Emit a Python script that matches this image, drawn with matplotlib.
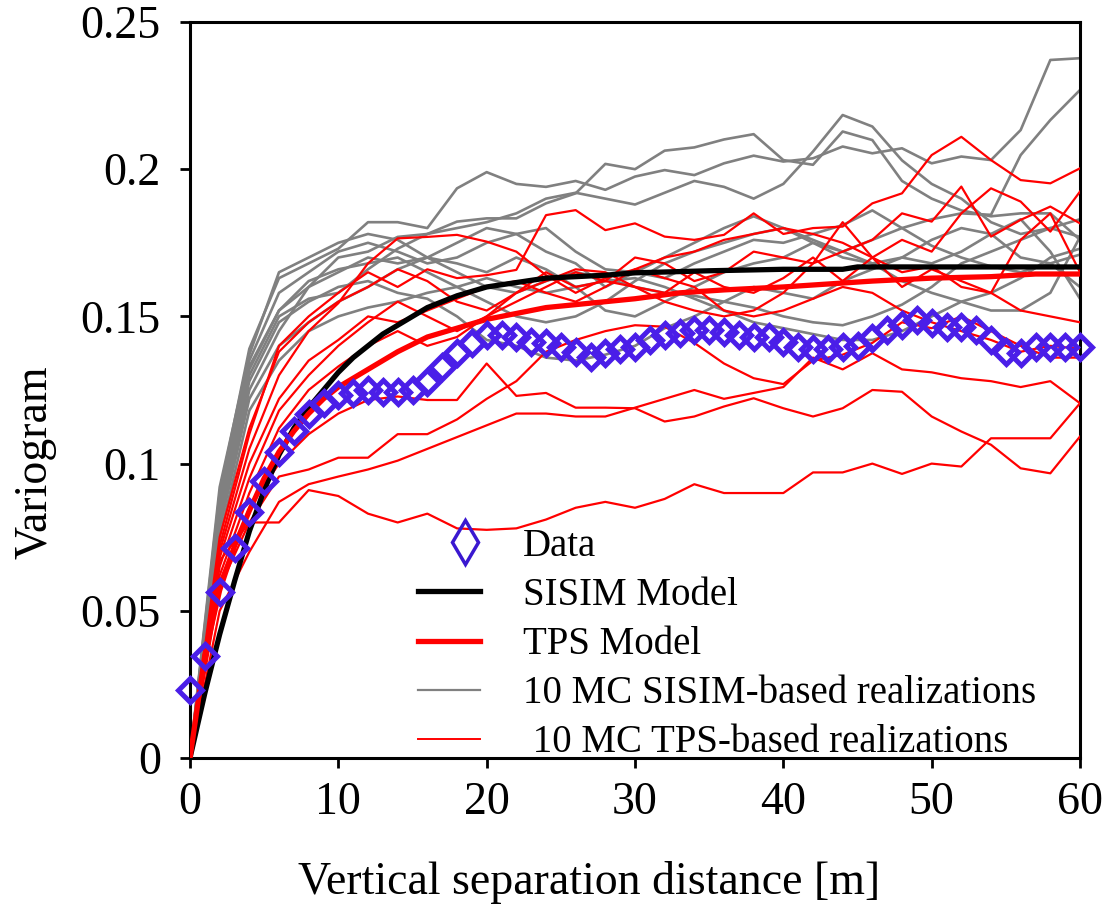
import numpy as np
import matplotlib
matplotlib.use("Agg")
import matplotlib.pyplot as plt
from matplotlib.lines import Line2D
from matplotlib.legend_handler import HandlerLine2DCompound

plt.rcParams['font.family'] = ['Liberation Serif', 'DejaVu Serif']

# --- data ---
data_h = np.arange(0, 61)
data_g = [0.0231, 0.0345, 0.0564, 0.0715, 0.0836, 0.0942, 0.104, 0.111, 0.117, 0.1206,
          0.1233, 0.124, 0.125, 0.1243, 0.1243, 0.125, 0.1277, 0.1328, 0.1376, 0.141,
          0.1437, 0.1437, 0.143, 0.1413, 0.141, 0.1396, 0.1379, 0.1362, 0.1376, 0.139,
          0.1396, 0.142, 0.1437, 0.1444, 0.1454, 0.1454, 0.1447, 0.1437, 0.143, 0.143,
          0.1413, 0.1396, 0.139, 0.139, 0.1396, 0.140, 0.1427, 0.1454, 0.147, 0.1488,
          0.1478, 0.1464, 0.1464, 0.1454, 0.142, 0.1379, 0.1376, 0.1396, 0.1396, 0.1396,
          0.1396]

sisim_h = [0, 1, 2, 3, 4, 5, 6, 7, 8, 9, 10, 11, 12, 13, 14, 15, 16, 18, 20, 22, 24, 26,
           28, 30, 35, 40, 44, 45, 50, 55, 60]
sisim_g = [0, 0.022, 0.042, 0.060, 0.077, 0.091, 0.103, 0.112, 0.119, 0.125, 0.131, 0.136,
           0.140, 0.144, 0.147, 0.150, 0.153, 0.157, 0.160, 0.1615, 0.163, 0.1635, 0.164,
           0.1648, 0.1655, 0.166, 0.166, 0.1668, 0.1668, 0.1668, 0.1668]

tps_h = [0, 1, 2, 3, 4, 5, 6, 7, 8, 9, 10, 12, 14, 16, 18, 20, 22, 24, 26, 28, 30, 33, 36,
         40, 43, 46, 50, 54, 57, 60]
tps_g = [0, 0.035, 0.057, 0.072, 0.084, 0.095, 0.104, 0.111, 0.117, 0.122, 0.126, 0.132,
         0.138, 0.143, 0.146, 0.149, 0.151, 0.153, 0.154, 0.155, 0.156, 0.158, 0.159, 0.160,
         0.161, 0.162, 0.163, 0.1635, 0.1644, 0.1644]

real_h = np.arange(0, 61, 2)

# 10 MC SISIM-based realizations
sisim_real = [
    [0, 0.090, 0.139, 0.163, 0.168, 0.173, 0.182, 0.182, 0.180, 0.1935, 0.199, 0.195, 0.194,
     0.196, 0.193, 0.1975, 0.1997, 0.198, 0.202, 0.2046, 0.2026, 0.2037, 0.2077, 0.2054,
     0.2071, 0.202, 0.2043, 0.2031, 0.2133, 0.2371, 0.2377],
    [0, 0.087, 0.133, 0.152, 0.160, 0.170, 0.172, 0.177, 0.178, 0.1822, 0.1833, 0.1833,
     0.1884, 0.1918, 0.2018, 0.200, 0.2063, 0.2074, 0.2101, 0.2119, 0.2031, 0.2015, 0.2128,
     0.2099, 0.196, 0.190, 0.186, 0.184, 0.185, 0.185, 0.176],
    [0, 0.085, 0.130, 0.150, 0.156, 0.158, 0.166, 0.173, 0.178, 0.180, 0.182, 0.185, 0.190,
     0.192, 0.190, 0.188, 0.192, 0.196, 0.194, 0.190, 0.195, 0.206, 0.2184, 0.2145, 0.203,
     0.195, 0.190, 0.182, 0.178, 0.180, 0.177],
    [0, 0.080, 0.125, 0.145, 0.160, 0.165, 0.170, 0.168, 0.170, 0.175, 0.180, 0.178, 0.172,
     0.168, 0.160, 0.165, 0.170, 0.175, 0.180, 0.184, 0.180, 0.176, 0.172, 0.176, 0.180,
     0.183, 0.185, 0.1845, 0.2048, 0.2167, 0.2269],
    [0, 0.075, 0.118, 0.135, 0.145, 0.150, 0.153, 0.155, 0.158, 0.160, 0.163, 0.160, 0.158,
     0.160, 0.162, 0.163, 0.160, 0.156, 0.152, 0.148, 0.146, 0.144, 0.142, 0.142, 0.145,
     0.150, 0.155, 0.152, 0.152, 0.158, 0.177],
    [0, 0.082, 0.128, 0.148, 0.155, 0.160, 0.162, 0.158, 0.156, 0.150, 0.142, 0.140, 0.136,
     0.135, 0.137, 0.140, 0.146, 0.150, 0.155, 0.160, 0.158, 0.156, 0.162, 0.166, 0.170,
     0.168, 0.172, 0.178, 0.183, 0.172, 0.156],
    [0, 0.088, 0.135, 0.158, 0.165, 0.172, 0.175, 0.172, 0.168, 0.170, 0.175, 0.178, 0.180,
     0.172, 0.166, 0.165, 0.163, 0.168, 0.172, 0.176, 0.175, 0.178, 0.181, 0.186, 0.180,
     0.174, 0.170, 0.167, 0.165, 0.168, 0.171],
    [0, 0.078, 0.122, 0.140, 0.148, 0.155, 0.160, 0.166, 0.170, 0.168, 0.165, 0.170, 0.166,
     0.160, 0.152, 0.150, 0.155, 0.160, 0.165, 0.168, 0.170, 0.175, 0.172, 0.168, 0.162,
     0.158, 0.155, 0.158, 0.163, 0.170, 0.173],
    [0, 0.085, 0.132, 0.152, 0.162, 0.166, 0.168, 0.170, 0.165, 0.160, 0.155, 0.150, 0.148,
     0.150, 0.155, 0.162, 0.168, 0.172, 0.175, 0.178, 0.180, 0.175, 0.170, 0.168, 0.170,
     0.176, 0.180, 0.178, 0.170, 0.168, 0.160],
    [0, 0.092, 0.137, 0.165, 0.170, 0.175, 0.178, 0.176, 0.170, 0.165, 0.160, 0.158, 0.162,
     0.165, 0.163, 0.160, 0.158, 0.157, 0.155, 0.153, 0.150, 0.148, 0.147, 0.150, 0.154,
     0.160, 0.168, 0.172, 0.176, 0.180, 0.183],
]

# 10 MC TPS-based realizations
tps_real = [
    [0, 0.067, 0.080, 0.080, 0.091, 0.089, 0.083, 0.080, 0.083, 0.078, 0.0775, 0.078, 0.081,
     0.085, 0.087, 0.085, 0.088, 0.093, 0.090, 0.090, 0.090, 0.097, 0.097, 0.100, 0.0965,
     0.100, 0.099, 0.1086, 0.1086, 0.1086, 0.1205],
    [0, 0.060, 0.085, 0.100, 0.110, 0.117, 0.1216, 0.1228, 0.1216, 0.1216, 0.134, 0.123,
     0.124, 0.119, 0.119, 0.1188, 0.1143, 0.116, 0.1194, 0.1222, 0.1188, 0.116, 0.1188,
     0.125, 0.1244, 0.116, 0.1109, 0.1064, 0.0984, 0.0967, 0.1092],
    [0, 0.050, 0.070, 0.087, 0.093, 0.0956, 0.098, 0.101, 0.105, 0.109, 0.113, 0.117, 0.117,
     0.116, 0.116, 0.119, 0.122, 0.125, 0.122, 0.124, 0.126, 0.136, 0.132, 0.1375, 0.132,
     0.131, 0.129, 0.128, 0.126, 0.128, 0.1205],
    [0, 0.058, 0.080, 0.0956, 0.098, 0.102, 0.102, 0.110, 0.110, 0.115, 0.122, 0.128, 0.138,
     0.142, 0.145, 0.147, 0.1465, 0.141, 0.134, 0.129, 0.127, 0.135, 0.137, 0.141, 0.148,
     0.146, 0.150, 0.145, 0.140, 0.136, 0.136],
    [0, 0.070, 0.105, 0.130, 0.145, 0.1545, 0.168, 0.1765, 0.177, 0.1777, 0.1754, 0.172,
     0.164, 0.158, 0.163, 0.166, 0.163, 0.160, 0.152, 0.150, 0.152, 0.156, 0.160, 0.158,
     0.152, 0.148, 0.145, 0.142, 0.138, 0.140, 0.139],
    [0, 0.072, 0.110, 0.140, 0.150, 0.158, 0.165, 0.160, 0.166, 0.163, 0.164, 0.1658, 0.1844,
     0.1861, 0.1793, 0.1816, 0.1771, 0.176, 0.1777, 0.185, 0.178, 0.180, 0.1805, 0.1884,
     0.1918, 0.2048, 0.211, 0.2031, 0.1963, 0.1952, 0.2003],
    [0, 0.065, 0.095, 0.118, 0.130, 0.140, 0.148, 0.155, 0.150, 0.145, 0.150, 0.158, 0.165,
     0.160, 0.162, 0.170, 0.168, 0.162, 0.165, 0.172, 0.170, 0.168, 0.172, 0.176, 0.185,
     0.1822, 0.1941, 0.1771, 0.1828, 0.1873, 0.1816],
    [0, 0.068, 0.100, 0.122, 0.135, 0.142, 0.150, 0.148, 0.152, 0.156, 0.160, 0.162, 0.158,
     0.155, 0.160, 0.166, 0.170, 0.172, 0.176, 0.178, 0.180, 0.178, 0.175, 0.170, 0.176,
     0.172, 0.185, 0.1935, 0.189, 0.1788, 0.1924],
    [0, 0.062, 0.090, 0.112, 0.125, 0.133, 0.140, 0.145, 0.140, 0.143, 0.150, 0.155, 0.160,
     0.165, 0.162, 0.160, 0.158, 0.165, 0.160, 0.158, 0.163, 0.170, 0.162, 0.170, 0.165,
     0.167, 0.160, 0.158, 0.152, 0.150, 0.148],
    [0, 0.075, 0.112, 0.138, 0.148, 0.155, 0.160, 0.166, 0.162, 0.155, 0.152, 0.158, 0.162,
     0.166, 0.165, 0.160, 0.155, 0.152, 0.150, 0.152, 0.158, 0.168, 0.182, 0.170, 0.160,
     0.166, 0.162, 0.158, 0.176, 0.185, 0.165],
]


class RightMarker(HandlerLine2DCompound):
    # put the single legend marker towards the right end of the handle
    def get_xdata(self, legend, xdescent, ydescent, width, height, fontsize):
        xdata = [-xdescent, -xdescent + width]
        return xdata, [-xdescent + 0.76 * width]


# --- figure ---
fig = plt.figure(figsize=(11.09, 9.15), dpi=100)
ax = fig.add_axes([190 / 1109, 1 - 758 / 915, 890 / 1109, 736 / 915])

for g in sisim_real:
    ax.plot(real_h, g, color='#808080', lw=1.9, zorder=2)
for g in tps_real:
    ax.plot(real_h, g, color='#ff0000', lw=1.6, zorder=3)
ax.plot(sisim_h, sisim_g, color='black', lw=3.8, zorder=4)
ax.plot(tps_h, tps_g, color='#ff0000', lw=3.8, zorder=4)
ax.plot(data_h, data_g, linestyle='none', marker='D', ms=12, mew=3.6,
        mfc='none', mec='#4a1ee8', zorder=5, clip_on=False)

ax.set_xlim(0, 60)
ax.set_ylim(0, 0.25)
ax.set_xticks([0, 10, 20, 30, 40, 50, 60])
ax.set_yticks([0, 0.05, 0.1, 0.15, 0.2, 0.25])
ax.set_yticklabels(['0', '0.05', '0.1', '0.15', '0.2', '0.25'])
ax.tick_params(direction='out', length=7, width=2, labelsize=33, pad=10)
ax.tick_params(axis='y', pad=14)
for s in ax.spines.values():
    s.set_linewidth(2.2)

ax.set_xlabel('Vertical separation distance [m]', fontsize=33)
ax.xaxis.set_label_coords((589 - 190) / 890, (758 - 861) / 736)
ax.set_ylabel('Variogram', fontsize=33)
ax.yaxis.set_label_coords((57 - 190) / 890, (758 - 462) / 736)

handles = [
    Line2D([], [], linestyle='none', marker='d', ms=22, mew=2.5, mfc='none', mec='#3a18d0'),
    Line2D([], [], color='black', lw=3.8),
    Line2D([], [], color='#ff0000', lw=3.8),
    Line2D([], [], color='#808080', lw=1.6),
    Line2D([], [], color='#ff0000', lw=1.4),
]
labels = ['Data', 'SISIM Model', 'TPS Model', '10 MC SISIM-based realizations',
          ' 10 MC TPS-based realizations']
ax.legend(handles, labels, loc='upper left',
          bbox_to_anchor=((418 - 190) / 890, (758 - 528) / 736),
          frameon=False, fontsize=28, handlelength=1.6, handletextpad=1.1,
          labelspacing=0.31, borderpad=0, borderaxespad=0,
          handler_map={handles[0]: RightMarker()})

fig.savefig('out.png', dpi=100)
